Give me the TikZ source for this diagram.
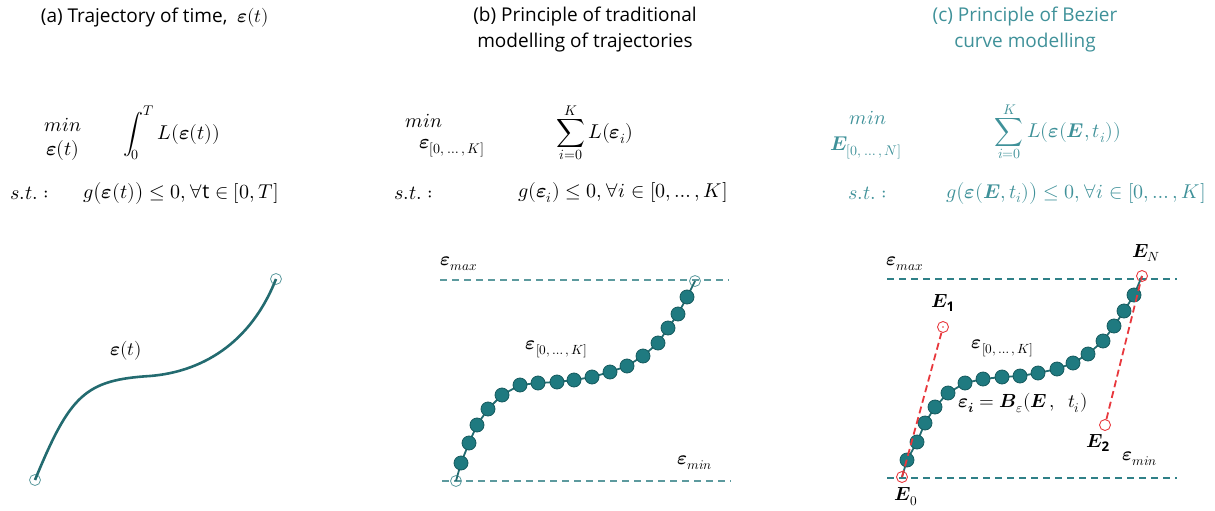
\documentclass[tikz,border=0pt]{standalone}
\usepackage{amsmath}
\usepackage{fontspec}
\usepackage{unicode-math}
\setmainfont{Open Sans}
\setmathfont{Latin Modern Math}
\definecolor{curveC}{HTML}{236B70}
\definecolor{beadC}{HTML}{1F7A80}
\definecolor{beadD}{HTML}{155A5E}
\definecolor{dashB}{HTML}{5C9A9E}
\definecolor{dashC}{HTML}{2F8087}
\definecolor{ctext}{HTML}{3F9199}
\definecolor{redC}{HTML}{E8383D}
\newcommand{\be}{\symbfit{\varepsilon}}
\newcommand{\bE}{\symbfit{E}}
\tikzset{
  title/.style={font=\fontsize{19}{26}\selectfont, align=center},
  mth/.style={font=\fontsize{20}{24}\selectfont},
  lbl/.style={font=\fontsize{19}{23}\selectfont},
  bead/.style={circle, fill=beadC, draw=beadD, line width=0.8pt, minimum size=14pt, inner sep=0pt},
  endpt/.style={circle, draw=dashB, line width=0.8pt, minimum size=11pt, inner sep=0pt},
  ctrlpt/.style={circle, draw=redC, line width=0.9pt, minimum size=11pt, inner sep=0pt},
  bound/.style={draw=dashB, dash pattern=on 7pt off 5pt, line width=1.1pt},
  boundc/.style={draw=dashC, dash pattern=on 7pt off 5pt, line width=1.1pt},
  ctrl/.style={draw=redC, dash pattern=on 7pt off 4pt, line width=1.8pt},
  link/.style={draw=curveC, line width=1.8pt}
}
\begin{document}
\begin{tikzpicture}[x=1pt,y=-1pt]
\useasboundingbox (0,0) rectangle (1215,511);
% ---------- titles ----------
\node[title] (ta) at (155,18) {(a) Trajectory of time,\ \ $\be(t)$};
\node[title] (tb) at (585,30) {(b) Principle of traditional\\modelling of trajectories};
\node[title, text=ctext] (tc) at (1025,30) {(c) Principle of Bezier\\curve modelling};
% ---------- panel (a) formulas ----------
\node[mth] (amin) at (63,125) {$min$};
\node[mth] (aarg) at (63,150) {$\be(t)$};
\node[mth] (aobj) at (172,133) {$\displaystyle\int_0^T L(\be(t))$};
\node[mth] (ast) at (30,193) {$s.t.:$};
\node[mth] (acon) at (181,193) {$g\bigl(\be(t)\bigr) \le 0, \forall \mathrm{t} \in [0,T]$};
% ---------- panel (b) formulas ----------
\node[mth] (bmin) at (424,121) {$min$};
\node[mth] (barg) at (452,148) {$\be_{[0,\,\dots\,,\,K]}$};
\node[mth] (bobj) at (595,133) {$\displaystyle\sum_{i=0}^{K} L(\be_i)$};
\node[mth] (bst) at (414,193) {$s.t.:$};
\node[mth] (bcon) at (623,193) {$g(\be_i) \le 0, \forall i \in [0,\dots,K]$};
% ---------- panel (c) formulas ----------
\node[mth, text=ctext] (cmin) at (868,118) {$min$};
\node[mth, text=ctext] (carg) at (866,148) {$\bE_{[0,\,\dots\,,\,N]}$};
\node[mth, text=ctext] (cobj) at (1058,132) {$\displaystyle\sum_{i=0}^{K} L(\be(\bE,t_i))$};
\node[mth, text=ctext] (cst) at (868,193) {$s.t.:$};
\node[mth, text=ctext] (ccon) at (1076,193) {$g\bigl(\be(\bE,t_i)\bigr) \le 0, \forall i \in [0,\dots,K]$};
% ---------- panel (a) curve ----------
\node[endpt] (a0) at (35,480) {};
\node[endpt] (a1) at (276,279) {};
\coordinate (amid) at (150,376);
\draw[curveC, line width=2.6pt] (a0.center) .. controls (70,395) and (85,380) .. (amid)
  .. controls (200,372) and (250,345) .. (a1.center);
\node[lbl] (alab) at (126,351) {$\be(t)$};
% ---------- panel (b) ----------
\coordinate (bmaxL) at (440,280); \coordinate (bmaxR) at (729,280);
\coordinate (bminL) at (442,481); \coordinate (bminR) at (731,481);
\draw[bound] (bmaxL) -- (bmaxR);
\draw[bound] (bminL) -- (bminR);
\node[lbl] (bmax) at (459,264) {$\be_{max}$};
\node[lbl] (bminlab) at (695,463) {$\be_{min}$};
\node[endpt] (bs) at (456,481) {};
\node[endpt] (be) at (695,281) {};
\foreach \i/\x/\y in {1/461/463,2/469/443,3/477/425,4/488/409,5/502/395,6/520/385,7/538/383,8/557/382,9/574/380,10/592/377,11/610/372,12/627/366,13/643/356,14/658/343,15/668/328,16/678/314,17/687/297}
  {\coordinate (bp\i) at (\x,\y);}
\draw[link] (bs.center) -- (bp1);
\foreach \i/\j in {1/2,2/3,3/4,4/5,5/6,6/7,7/8,8/9,9/10,10/11,11/12,12/13,13/14,14/15,15/16,16/17} {\draw[link] (bp\i) -- (bp\j);}
\draw[link] (bp17) -- (be.center);
\foreach \i in {1,...,17} {\node[bead] (bb\i) at (bp\i) {};}
\node[lbl] (blab) at (557,349) {$\be_{[0,\,\dots\,,\,K]}$};
% ---------- panel (c) ----------
\coordinate (cmaxL) at (887,279); \coordinate (cmaxR) at (1177,279);
\coordinate (cminL) at (887,478); \coordinate (cminR) at (1177,478);
\draw[boundc] (cmaxL) -- (cmaxR);
\draw[boundc] (cminL) -- (cminR);
\node[lbl] (cmax) at (905,264) {$\be_{max}$};
\node[lbl] (cminlab) at (1140,459) {$\be_{min}$};
\node[ctrlpt] (E0) at (902,477) {};
\node[ctrlpt] (E1) at (943,327) {};
\node[ctrlpt] (E2) at (1105,425) {};
\node[ctrlpt] (EN) at (1142,276) {};
\foreach \i/\x/\y in {1/907/460,2/917/442,3/925/423,4/935/407,5/948/393,6/965/383,7/983/379,8/1002/377,9/1020/376,10/1038/373,11/1057/369,12/1073/363,13/1088/354,14/1103/341,15/1114/326,16/1124/311,17/1134/295}
  {\coordinate (cp\i) at (\x,\y);}
\draw[link] (E0.center) -- (cp1);
\foreach \i/\j in {1/2,2/3,3/4,4/5,5/6,6/7,7/8,8/9,9/10,10/11,11/12,12/13,13/14,14/15,15/16,16/17} {\draw[link] (cp\i) -- (cp\j);}
\draw[link] (cp17) -- (EN.center);
\foreach \i in {1,...,17} {\node[bead] (cb\i) at (cp\i) {};}
\draw[ctrl] (E0.center) -- (E1);
\draw[ctrl] (E2) -- (EN.center);
\fill[redC] (E1.center) circle (0.9pt);
\node[lbl] (E1l) at (943,303) {$\bE_{\mathbf{1}}$};
\node[lbl] (E2l) at (1098,443) {$\bE_{\mathbf{2}}$};
\node[lbl] (E0l) at (906,497) {$\bE_{0}$};
\node[lbl] (ENl) at (1146,253) {$\bE_{N}$};
\node[lbl] (clab) at (1003,348) {$\be_{[0,\,\dots\,,\,K]}$};
\node[lbl] (cform) at (1023,403) {$\be_{\symbfit{i}} = \symbfit{B}_{\varepsilon}(\bE\,,\ \ t_i)$};
\end{tikzpicture}
\end{document}
